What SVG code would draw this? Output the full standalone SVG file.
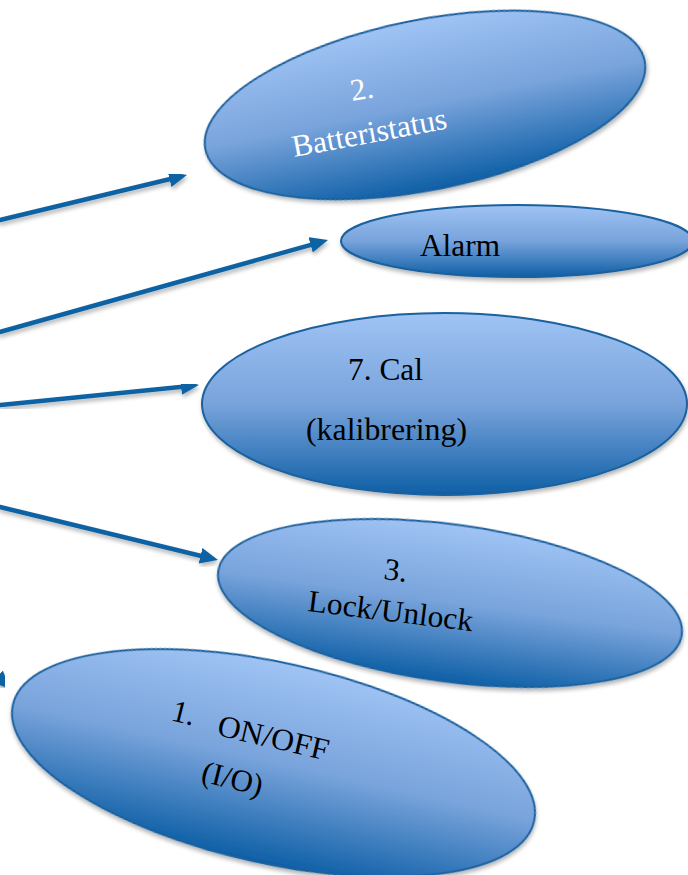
<svg xmlns="http://www.w3.org/2000/svg" width="688" height="875" viewBox="0 0 688 875">
<style>
.node{fill:url(#g);stroke:#1A619E;stroke-width:2;filter:url(#sh)}
.t{font-family:"Liberation Serif","Times New Roman",serif;font-size:31px;fill:#000}
.w{fill:#fff}
.c{stroke:#1062A3;stroke-width:4.5;fill:none;marker-end:url(#ah);filter:url(#sh)}
</style>
<defs>
<linearGradient id="g" x1="0" y1="0" x2="0" y2="1">
<stop offset="0" stop-color="#9FC3F4"/>
<stop offset="0.5" stop-color="#78A3DB"/>
<stop offset="1" stop-color="#0E5FA6"/>
</linearGradient>
<filter id="sh" x="-10%" y="-10%" width="120%" height="130%">
<feGaussianBlur in="SourceAlpha" stdDeviation="2"/>
<feOffset dx="1" dy="3" result="b"/>
<feComponentTransfer><feFuncA type="linear" slope="0.3"/></feComponentTransfer>
<feMerge><feMergeNode/><feMergeNode in="SourceGraphic"/></feMerge>
</filter>
<marker id="ah" markerUnits="userSpaceOnUse" markerWidth="20" markerHeight="18" refX="4" refY="8" orient="auto">
<path d="M0,0 L18,8 L0,16 z" fill="#1062A3"/>
</marker>
</defs>
<g id="connectors">
<line class="c" x1="-2" y1="220.5" x2="173.4" y2="178.3"/>
<line class="c" x1="-2" y1="332.5" x2="314.5" y2="243.8"/>
<line class="c" x1="-2" y1="405.2" x2="185.1" y2="386.4"/>
<line class="c" x1="-2" y1="506.5" x2="204.4" y2="556.7"/>
<line class="c" x1="-40" y1="639" x2="0.1" y2="679.1"/>
</g>
<g id="n2">
<ellipse class="node" cx="425" cy="105" rx="224" ry="85" transform="rotate(-11.4 425 105)"/>
<text class="t w" x="352" y="101" transform="rotate(-9 352 101)">2.</text>
<text class="t w" x="294" y="157" transform="rotate(-10.5 294 157)" textLength="157" lengthAdjust="spacingAndGlyphs">Batteristatus</text>
</g>
<g id="alarm">
<ellipse class="node" cx="517" cy="241" rx="176" ry="36"/>
<text class="t" x="420" y="256" textLength="80" lengthAdjust="spacingAndGlyphs">Alarm</text>
</g>
<g id="n7">
<ellipse class="node" cx="444.5" cy="404" rx="242.5" ry="91"/>
<text class="t" x="348" y="380" textLength="75" lengthAdjust="spacingAndGlyphs">7. Cal</text>
<text class="t" x="306" y="440" textLength="161" lengthAdjust="spacingAndGlyphs">(kalibrering)</text>
</g>
<g id="n3">
<ellipse class="node" cx="450" cy="603" rx="233.9" ry="78.6" transform="rotate(7.8 450 603)"/>
<text class="t" x="383" y="579" transform="rotate(7 383 579)">3.</text>
<text class="t" x="307" y="611" transform="rotate(7 307 611)" textLength="166" lengthAdjust="spacingAndGlyphs">Lock/Unlock</text>
</g>
<g id="n1">
<ellipse class="node" cx="273.5" cy="763" rx="267" ry="100.3" transform="rotate(12.6 273.5 763)"/>
<text class="t" x="170" y="720" transform="rotate(14 170 720)">1.</text>
<text class="t" x="216" y="735" transform="rotate(13 216 735)" textLength="113" lengthAdjust="spacingAndGlyphs">ON/OFF</text>
<text class="t" x="200" y="781" transform="rotate(14 200 781)">(I/O)</text>
</g>
</svg>
